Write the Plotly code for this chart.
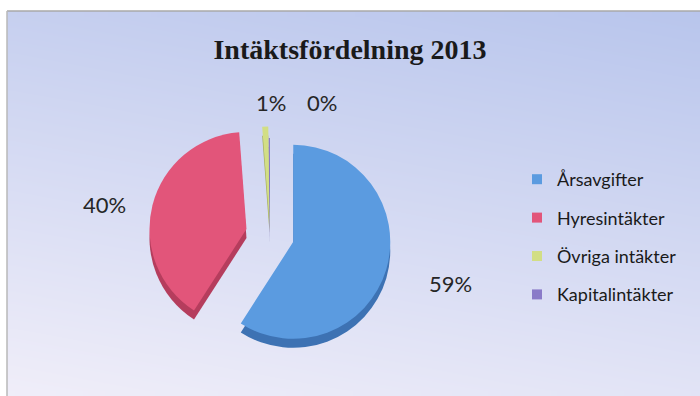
import plotly.graph_objects as go
import numpy as np

# ---- data ----
categories = ["Årsavgifter", "Hyresintäkter", "Övriga intäkter", "Kapitalintäkter"]
values = [59.1, 39.7, 1.0, 0.2]
title_text = "Intäktsfördelning 2013"

# ---- style ----
top_colors = ["#5b9be0", "#e2557a", "#d2de85", "#8a7bc8"]
side_colors = ["#3d72b3", "#b53d5d", "#a5b060", "#65589e"]
pulls = [0.25, 0.25, 0.12, 0.0]

W, H = 700, 396
fig = go.Figure()

# background gradient (chart area), hidden axes in pixel units
nx, ny = 60, 40
x_left, y_top = 7, 11
dx = (W - x_left) / nx
dy = (H - y_top) / ny
xs = x_left + dx / 2 + dx * np.arange(nx)
ys = dy / 2 + dy * np.arange(ny)
xn = (xs - x_left) / (W - x_left)
yn = ys / (H - y_top)
Z = (1 - yn[:, None]) * 0.75 + (1 - xn[None, :]) * 0.25
fig.add_trace(go.Heatmap(
    x=xs, y=ys, z=Z, zmin=0, zmax=1, zsmooth="best", showscale=False,
    colorscale=[[0, "#b8c5ec"], [1, "#f0eef9"]], hoverinfo="skip",
    xaxis="x", yaxis="y",
))

# pie geometry
cx, cy, r = 270, 235, 97
half = r * (1 + max(pulls))
depth = 9

def dom(cxp, cyp):
    return dict(x=[(cxp - half) / W, (cxp + half) / W],
                y=[(H - cyp - half) / H, (H - cyp + half) / H])

# depth (side) pie
fig.add_trace(go.Pie(
    labels=categories, values=values, sort=False, direction="clockwise",
    rotation=0, pull=pulls, marker=dict(colors=side_colors, line=dict(width=0)),
    textinfo="none", hoverinfo="skip", showlegend=False, domain=dom(cx, cy + depth),
))
# top pie
fig.add_trace(go.Pie(
    labels=categories, values=values, sort=False, direction="clockwise",
    rotation=0, pull=pulls, marker=dict(colors=top_colors, line=dict(width=0)),
    textinfo="none", showlegend=False, domain=dom(cx, cy),
))

# legend entries
for i, (cat, col) in enumerate(zip(categories, top_colors)):
    fig.add_trace(go.Scatter(
        x=[None], y=[None], mode="markers", name=cat, legendgroup=f"g{i}",
        marker=dict(symbol="square", size=10, color=col),
        xaxis="x", yaxis="y",
    ))

# percentage labels
total = sum(values)
label_pos = [(450, 283), (104, 205), (271, 102), (322, 102)]
annotations = []
for v, (lx, ly) in zip(values, label_pos):
    annotations.append(dict(
        x=lx / W, y=1 - ly / H, xref="paper", yref="paper", showarrow=False,
        text=f"{round(v / total * 100)}%", xanchor="center", yanchor="middle",
        font=dict(family="Lato", size=22, color="#262626"),
    ))

fig.update_layout(
    width=W, height=H, margin=dict(l=0, r=0, t=0, b=0),
    paper_bgcolor="white", plot_bgcolor="rgba(0,0,0,0)",
    xaxis=dict(range=[0, W], visible=False, fixedrange=True),
    yaxis=dict(range=[0, H], visible=False, fixedrange=True),
    title=dict(text=f"<b>{title_text}</b>", x=0.5, xanchor="center",
               y=1 - 49 / H, yanchor="middle",
               font=dict(family="Liberation Serif", size=28, color="#1a1a1a")),
    legend=dict(x=517 / W, y=1 - 161 / H, xanchor="left", yanchor="top",
                bgcolor="rgba(0,0,0,0)", tracegroupgap=12,
                font=dict(family="Lato", size=18, color="#1a1a1a")),
    annotations=annotations,
    shapes=[
        dict(type="line", xref="paper", yref="paper", x0=x_left / W, x1=1,
             y0=1 - y_top / H, y1=1 - y_top / H, line=dict(color="#a8a8a8", width=1.5)),
        dict(type="line", xref="paper", yref="paper", x0=x_left / W, x1=x_left / W,
             y0=0, y1=1 - y_top / H, line=dict(color="#b8b8b8", width=1.5)),
    ],
    showlegend=True,
)

fig.write_html("out.html")
